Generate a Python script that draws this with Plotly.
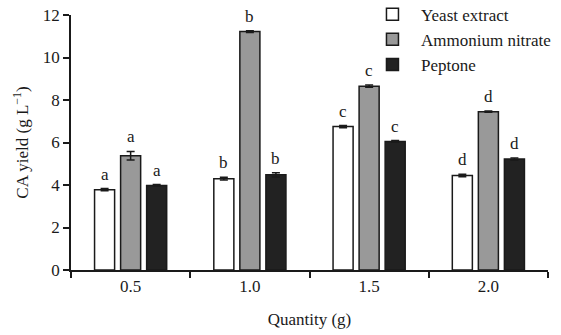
import plotly.graph_objects as go

categories = ["0.5", "1.0", "1.5", "2.0"]
series_names = ["Yeast extract", "Ammonium nitrate", "Peptone"]
yeast = [3.78, 4.3, 6.75, 4.45]
ammonium = [5.38, 11.22, 8.65, 7.45]
peptone = [3.98, 4.48, 6.05, 5.22]
yeast_err = [0.05, 0.06, 0.05, 0.06]
ammonium_err = [0.2, 0.04, 0.05, 0.03]
peptone_err = [0.04, 0.1, 0.04, 0.05]
yeast_letters = ["a", "b", "c", "d"]
ammonium_letters = ["a", "b", "c", "d"]
peptone_letters = ["a", "b", "c", "d"]
y_ticks = [0, 2, 4, 6, 8, 10, 12]

fills = ["#ffffff", "#999999", "#222222"]
FONT = "Liberation Serif"
INK = "#1a1a1a"
BARGAP = 0.345
BARGROUPGAP = 0.23
NBSP = "\u00a0"

fig = go.Figure()
all_vals = [yeast, ammonium, peptone]
all_err = [yeast_err, ammonium_err, peptone_err]
all_letters = [yeast_letters, ammonium_letters, peptone_letters]
for name, vals, errs, col in zip(series_names, all_vals, all_err, fills):
    fig.add_trace(go.Bar(
        x=categories, y=vals, name=NBSP * 2 + name,
        marker=dict(color=col, line=dict(color=INK, width=1.5)),
        error_y=dict(type="data", array=errs, visible=True, color=INK, thickness=1.5, width=4),
        hoverinfo="skip",
    ))

# significance letters above each bar (slot offsets follow the grouped-bar layout)
n = len(series_names)
slot = (1 - BARGAP) / n
for s, (vals, errs, letters) in enumerate(zip(all_vals, all_err, all_letters)):
    off = (s - (n - 1) / 2) * slot
    for i, (v, e, t) in enumerate(zip(vals, errs, letters)):
        fig.add_annotation(
            x=i + off, y=v + e, xref="x", yref="y", text=t, showarrow=False,
            yanchor="bottom", yshift=3,
            font=dict(family=FONT, size=17, color=INK),
        )

fig.update_layout(
    width=561, height=335,
    margin=dict(l=71, r=13, t=15, b=65, autoexpand=False),
    paper_bgcolor="white", plot_bgcolor="white",
    barmode="group", bargap=BARGAP, bargroupgap=BARGROUPGAP,
    font=dict(family=FONT, size=17, color=INK),
    showlegend=True,
    legend=dict(x=0.632, y=1.072, xanchor="left", yanchor="top",
                bgcolor="rgba(0,0,0,0)", font=dict(family=FONT, size=17, color=INK),
                tracegroupgap=0, itemwidth=30),
    xaxis=dict(
        type="category", tickson="boundaries", ticks="outside", ticklen=6,
        tickwidth=1.5, tickcolor=INK, showline=True, linecolor=INK,
        linewidth=1.5, showgrid=False, zeroline=False, automargin=False,
        range=[-0.5, 3.5],
        title=dict(text="Quantity (g)", font=dict(family=FONT, size=17), standoff=18),
        tickfont=dict(family=FONT, size=17),
    ),
    yaxis=dict(
        range=[0, 12], tickvals=y_ticks, ticks="outside", ticklen=6,
        tickwidth=1.5, tickcolor=INK, showline=True, linecolor=INK,
        linewidth=1.5, showgrid=False, zeroline=False, automargin=False,
        title=dict(text="CA yield (g L<sup>\u22121</sup>)", font=dict(family=FONT, size=17), standoff=10),
        tickfont=dict(family=FONT, size=17),
    ),
)

fig.write_html("out.html", config={"displayModeBar": False},
               post_script="document.body.style.margin='0';")
